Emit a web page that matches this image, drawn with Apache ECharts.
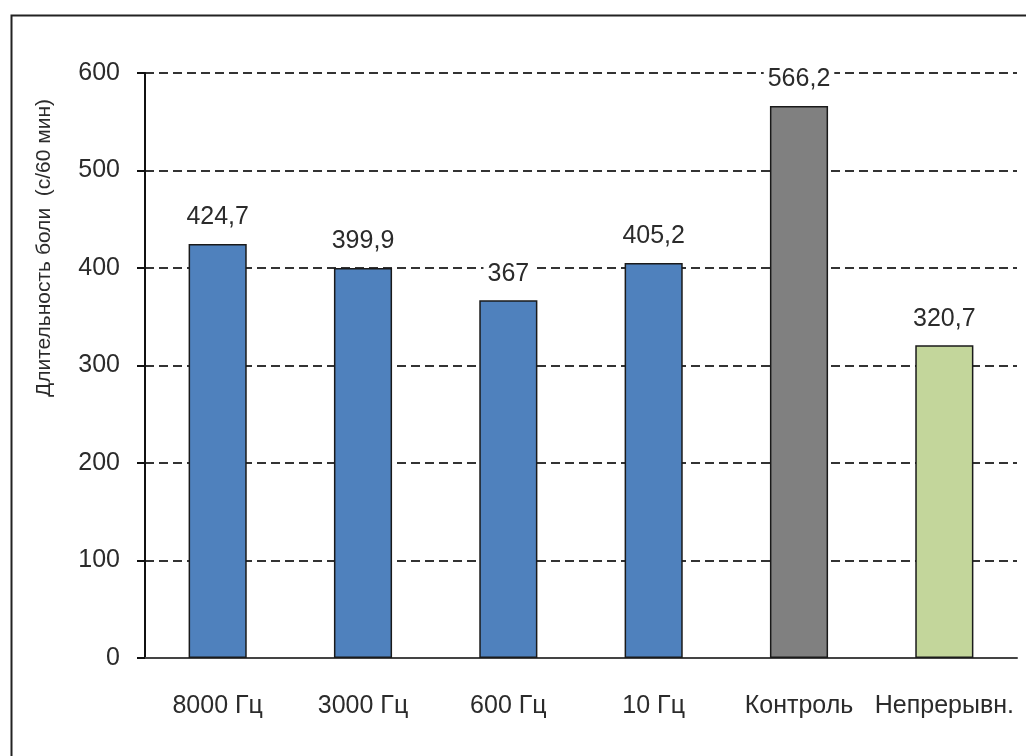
<!DOCTYPE html>
<html>
<head>
<meta charset="utf-8">
<script src="https://cdn.jsdelivr.net/npm/echarts@6/dist/echarts.min.js"></script>
<style>
  html, body { margin: 0; padding: 0; background: #ffffff; }
  #chart { width: 1026px; height: 756px; }
</style>
</head>
<body>
<div id="chart"></div>
<script>
// Pain duration per stimulation mode
const categories = ['8000 Гц', '3000 Гц', '600 Гц', '10 Гц', 'Контроль', 'Непрерывн.'];
const values = [424.7, 399.9, 367, 405.2, 566.2, 320.7];
const valueLabels = ['424,7', '399,9', '367', '405,2', '566,2', '320,7'];
const barColors = ['#4F81BD', '#4F81BD', '#4F81BD', '#4F81BD', '#808080', '#C3D69B'];
const yTicks = [0, 100, 200, 300, 400, 500, 600];
const yTitle = 'Длительность боли  (с/60 мин)';

const FONT = '"Liberation Sans", Arial, sans-serif';
const TEXT = '#2b2b2b';

const chart = echarts.init(document.getElementById('chart'), null, { renderer: 'canvas' });

chart.setOption({
  backgroundColor: '#ffffff',
  animation: false,
  grid: { left: 145, right: 9, top: 73, bottom: 98, containLabel: false },
  xAxis: {
    type: 'category',
    data: categories,
    axisLine: { show: true, lineStyle: { color: '#444', width: 2 } },
    axisTick: { show: false },
    axisLabel: { color: TEXT, fontFamily: FONT, fontSize: 25, margin: 36, interval: 0, hideOverlap: false },
    splitLine: { show: false }
  },
  yAxis: {
    type: 'value',
    min: yTicks[0],
    max: yTicks[yTicks.length - 1],
    interval: 100,
    axisLine: { show: true, lineStyle: { color: '#111', width: 2 } },
    axisTick: { show: true, length: 8, lineStyle: { color: '#111', width: 2 } },
    axisLabel: { color: TEXT, fontFamily: FONT, fontSize: 25, margin: 25 },
    splitLine: { show: true, lineStyle: { color: '#333', width: 2, type: [9, 5] } }
  },
  series: [{
    type: 'bar',
    barWidth: '40%',
    z: 3,
    data: values.map((v, i) => ({
      value: v,
      itemStyle: { color: barColors[i], borderColor: '#1a1a1a', borderWidth: 1.5 }
    })),
    label: {
      show: true,
      position: 'top',
      distance: 14,
      color: TEXT,
      fontFamily: FONT,
      fontSize: 25,
      backgroundColor: '#ffffff',
      padding: [0, 4],
      formatter: p => valueLabels[p.dataIndex]
    }
  }],
  graphic: [
    {
      type: 'rect',
      left: 9, top: 13,
      shape: { x: 0, y: 0, width: 1040, height: 760 },
      style: { fill: 'none', stroke: '#222', lineWidth: 2 },
      silent: true
    },
    {
      type: 'text',
      x: 44, y: 248,
      rotation: Math.PI / 2,
      style: {
        text: yTitle,
        fill: TEXT,
        font: '21px ' + FONT,
        align: 'center',
        verticalAlign: 'middle'
      }
    }
  ]
});
</script>
</body>
</html>
